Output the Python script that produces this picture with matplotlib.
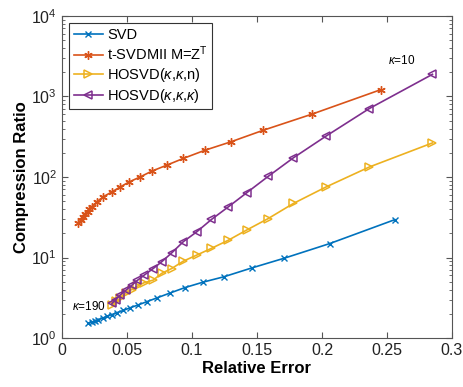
import matplotlib
matplotlib.use('Agg')
import matplotlib.pyplot as plt
from matplotlib.ticker import LogLocator, NullFormatter

plt.rcParams['font.family'] = ['Liberation Sans', 'DejaVu Sans']
plt.rcParams['mathtext.fontset'] = 'custom'
plt.rcParams['mathtext.rm'] = 'Liberation Sans'
plt.rcParams['mathtext.it'] = 'Liberation Sans:italic'

# SVD
svd_err = [0.0202, 0.0228, 0.0254, 0.028, 0.0313, 0.0344, 0.0382, 0.0421,
           0.0472, 0.0523, 0.0587, 0.0651, 0.0728, 0.0831, 0.0946, 0.1087,
           0.1245, 0.1458, 0.171, 0.206, 0.256]
svd_ratio = [1.52, 1.58, 1.63, 1.69, 1.77, 1.85, 1.95, 2.06, 2.20, 2.37,
             2.58, 2.82, 3.14, 3.62, 4.23, 4.95, 5.76, 7.4, 9.8, 14.9, 29.5]

# t-SVDMII M=Z^T
tsvd_err = [0.0126, 0.0145, 0.0164, 0.018, 0.0197, 0.021, 0.0228, 0.0267,
            0.0318, 0.0382, 0.0446, 0.0518, 0.060, 0.069, 0.0805, 0.0933,
            0.110, 0.1298, 0.1549, 0.192, 0.2454]
tsvd_ratio = [26.5, 29, 32, 34.5, 36.9, 40, 42.6, 49, 57, 65, 75, 87, 100,
              118, 140, 170, 215, 273, 381, 601, 1218]

# HOSVD, same error values for both variants
hosvd_err = [0.0385, 0.0415, 0.0446, 0.049, 0.0536, 0.058, 0.063, 0.0702,
             0.0767, 0.0844, 0.0933, 0.1036, 0.115, 0.128, 0.142, 0.1587,
             0.178, 0.203, 0.2364, 0.285]
hosvd_kkn = [2.57, 2.85, 3.11, 3.6, 4.0, 4.4, 4.85, 5.24, 6.35, 7.3, 9.0,
             10.7, 13.0, 16.4, 21.9, 30.5, 46.9, 75, 133, 265]
hosvd_kkk = [2.69, 3.0, 3.4, 3.9, 4.5, 5.2, 6.0, 7.3, 8.85, 11.4, 15.7,
             20.8, 29.7, 42.6, 63.5, 102, 173, 321, 708, 1885]

fig = plt.figure(figsize=(4.64, 3.87), dpi=100)
ax = fig.add_axes([0.1336, 0.1266, 0.8404, 0.8321])

lw = 1.2
ax.plot(svd_err, svd_ratio, color='#0072BD', marker='x', ms=4.5, lw=lw,
        label='SVD')
ax.plot(tsvd_err, tsvd_ratio, color='#D95319', marker=(6, 2, 0), ms=6,
        mew=1.0, lw=lw, label='t-SVDMII M=Z$^\\mathrm{T}$')
ax.plot(hosvd_err, hosvd_kkn, color='#EDB120', marker='>', ms=6,
        mfc='none', mew=1.1, lw=lw, label='HOSVD($\\kappa$,$\\kappa$,n)')
ax.plot(hosvd_err, hosvd_kkk, color='#7E2F8E', marker='<', ms=6,
        mfc='none', mew=1.1, lw=lw,
        label='HOSVD($\\kappa$,$\\kappa$,$\\kappa$)')

ax.text(0.0335, 2.44, '$\\kappa$=190', ha='right', va='center', fontsize=8.5)
ax.text(0.2615, 2800, '$\\kappa$=10', ha='center', va='center', fontsize=8.5)

ax.set_yscale('log')
ax.set_xlim(0, 0.3)
ax.set_ylim(1, 1e4)
ax.set_xticks([0, 0.05, 0.1, 0.15, 0.2, 0.25, 0.3])
ax.set_xticklabels(['0', '0.05', '0.1', '0.15', '0.2', '0.25', '0.3'])
ax.yaxis.set_major_locator(LogLocator(base=10, numticks=10))
ax.yaxis.set_minor_locator(LogLocator(base=10, subs=range(2, 10), numticks=50))
ax.yaxis.set_minor_formatter(NullFormatter())

ax.tick_params(which='both', direction='in', top=True, right=True,
               labelsize=11.5, color='#555555', labelcolor='#222222')
ax.tick_params(which='major', length=4)
ax.tick_params(which='minor', length=2)
for s in ax.spines.values():
    s.set_color('#555555')
    s.set_linewidth(0.8)

ax.set_xlabel('Relative Error', fontsize=12, fontweight='bold', labelpad=2)
ax.set_ylabel('Compression Ratio', fontsize=12, fontweight='bold', labelpad=2)

leg = ax.legend(loc='upper left', fontsize=10.5, fancybox=False,
                handlelength=2.0, handletextpad=0.3, labelspacing=0.2,
                borderpad=0.3, borderaxespad=0.5, framealpha=1)
leg.get_frame().set_edgecolor('#333333')
leg.get_frame().set_linewidth(0.8)

fig.savefig('out.png', dpi=100)
